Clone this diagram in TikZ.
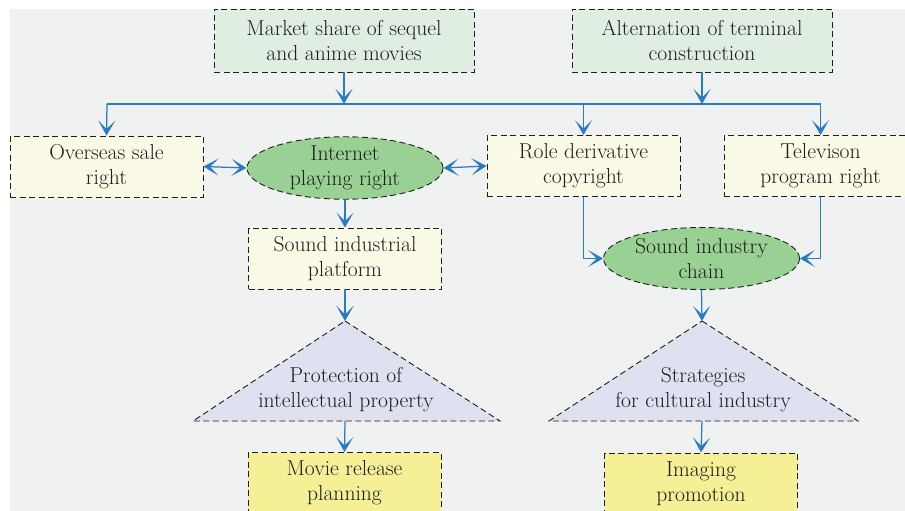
\documentclass[tikz,border=0pt]{standalone}
\usetikzlibrary{arrows.meta,shapes.geometric}
\definecolor{panel}{HTML}{F0F2F1}
\definecolor{topfill}{HTML}{DFEEE0}
\definecolor{midfill}{HTML}{FAFAE6}
\definecolor{ovalfill}{HTML}{99D194}
\definecolor{trifill}{HTML}{DFE0F0}
\definecolor{endfill}{HTML}{F5F096}
\definecolor{flow}{HTML}{2B7BC4}
\definecolor{ink}{HTML}{1E1E1E}
\tikzset{
  every node/.style={font=\rmfamily\fontsize{21.6}{25}\selectfont, text=ink, align=center, inner sep=0pt},
  outline/.style={draw=ink, line width=0.9pt, dash pattern=on 6pt off 3.5pt},
  topbox/.style={outline, fill=topfill, minimum width=260pt, minimum height=63pt},
  midbox/.style={outline, fill=midfill, minimum width=193pt, minimum height=61pt},
  endbox/.style={outline, fill=endfill, minimum width=193pt, minimum height=61pt},
  oval/.style={outline, fill=ovalfill, ellipse, minimum width=196pt, minimum height=62pt},
  head/.tip={Stealth[length=15pt, width=17pt, inset=8.5pt]},
  tip/.style={-head},
  both/.style={head-head},
  link/.style={draw=flow, line width=1.25pt},
}
\begin{document}
\begin{tikzpicture}[x=1pt, y=-1pt]
\useasboundingbox (0,0) rectangle (905,511);
\clip (0,0) rectangle (905,511);
\fill[white] (0,0) rectangle (905,511);
\fill[panel] (10,9) rectangle (905,511);

% top sources
\node[topbox] (market) at (344,40.5) {Market share of sequel\\and anime movies};
\node[topbox] (altern) at (702,40.5) {Alternation of terminal\\construction};

% second row
\node[midbox] (overseas) at (106.5,166.5) {Overseas sale\\right};
\node[oval] (internet) at (345,168) {Internet\\playing right};
\node[midbox] (role) at (583.5,166) {Role derivative\\copyright};
\node[midbox] (tv) at (820.5,166) {Televison\\program right};

% left column
\node[midbox] (platform) at (345,258.5) {Sound industrial\\platform};
\coordinate (apexL) at (345,321);
\fill[trifill] (apexL) -- (500,421) -- (193,421) -- cycle;
\draw[outline] (apexL) -- (500,421) -- (193,421) -- cycle;
\node (protect) at (346,390) {Protection of\\intellectual property};
\coordinate (baseL) at (345,421);
\node[endbox] (movie) at (344.5,483) {Movie release\\planning};

% right column
\node[oval] (chain) at (701.5,258.5) {Sound industry\\chain};
\coordinate (apexR) at (702,321);
\fill[trifill] (apexR) -- (858,421) -- (549,421) -- cycle;
\draw[outline] (apexR) -- (858,421) -- (549,421) -- cycle;
\node (strat) at (703,390) {Strategies\\for cultural industry};
\coordinate (baseR) at (702,421);
\node[endbox] (imaging) at (701,483.5) {Imaging\\promotion};

% distribution bus
\coordinate (busL) at (107,104);
\coordinate (busR) at (820.5,104);
\draw[link] (busL) -- (busR);
\draw[link, tip] (market.south) -- (market.south |- busL);
\draw[link, tip] (altern.south) -- (altern.south |- busL);
\draw[link, tip] (busL) -- (overseas.north);
\draw[link, tip] (role.north |- busL) -- (role.north);
\draw[link, tip] (busR) -- (tv.north);

% two-way links
\draw[link, both] (overseas.east) -- (internet.west);
\draw[link, both] (internet.east) -- (role.west);

% left flow
\draw[link, tip] (internet.south) -- (platform.north);
\draw[link, tip] (platform.south) -- (apexL);
\draw[link, tip] (baseL) -- (movie.north);

% right flow
\draw[link, tip] (role.south) |- (chain.west);
\draw[link, tip] (tv.south) |- (chain.east);
\draw[link, tip] (chain.south) -- (apexR);
\draw[link, tip] (baseR) -- (imaging.north);
\end{tikzpicture}
\end{document}
